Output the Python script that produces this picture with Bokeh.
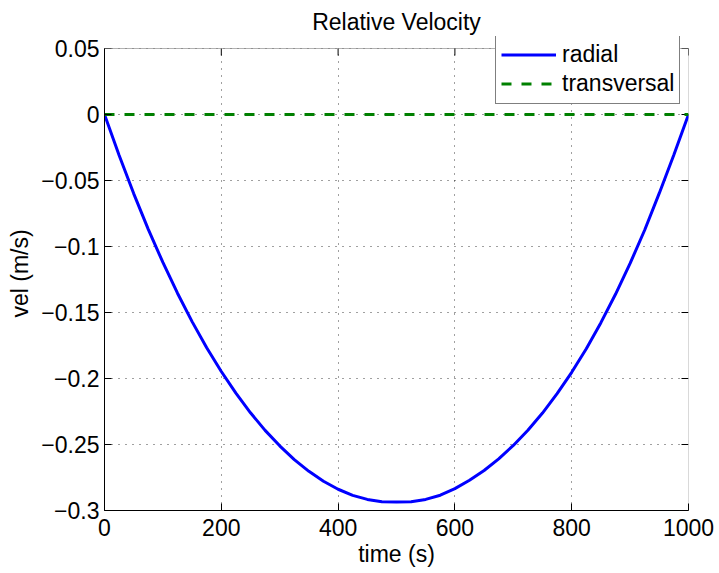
import math
from bokeh.plotting import figure
from bokeh.models import Range1d, FixedTicker, Legend, LegendItem, BoxAnnotation
from bokeh.embed import file_html
from bokeh.resources import INLINE

# ---- data ----
time_s = [0, 25, 50, 75, 100, 125, 150, 175, 200, 225, 250, 275, 300, 325, 350, 375,
          400, 425, 450, 475, 500, 525, 550, 575, 600, 625, 650, 675, 700, 725, 750,
          775, 800, 825, 850, 875, 900, 925, 950, 975, 1000]
radial = [0.0, -0.0309, -0.0599, -0.0870, -0.1121, -0.1354, -0.1569, -0.1767,
          -0.1947, -0.2111, -0.2260, -0.2393, -0.2510, -0.2614, -0.2703, -0.2778,
          -0.2839, -0.2885, -0.2916, -0.2933, -0.2936, -0.2933, -0.2916, -0.2884,
          -0.2834, -0.2771, -0.2697, -0.2609, -0.2507, -0.2392, -0.2262, -0.2115,
          -0.1953, -0.1774, -0.1577, -0.1362, -0.1128, -0.0875, -0.0596, -0.0305, 0.0]
transversal = [0.0 for _ in time_s]

x_ticks = [0, 200, 400, 600, 800, 1000]
y_ticks = [0.05, 0, -0.05, -0.1, -0.15, -0.2, -0.25, -0.3]
y_tick_labels = ["0.05", "0", "\u22120.05", "\u22120.1", "\u22120.15", "\u22120.2", "\u22120.25", "\u22120.3"]

X_MIN, X_MAX = 0, 1000
Y_MIN, Y_MAX = -0.3, 0.05

FONT = "Liberation Sans"
FS = "23px"

# frame extends a little above the axes box so the legend (which overlaps the
# top edge in the reference) is not clipped
PX_PER_Y = 462 / (Y_MAX - Y_MIN)
y_top = Y_MAX + 12 / PX_PER_Y
TICK_PX = 7

p = figure(width=719, height=573, output_backend="svg", toolbar_location=None,
           x_range=Range1d(X_MIN, X_MAX), y_range=Range1d(Y_MIN, y_top),
           min_border_left=104, min_border_right=31, min_border_top=36, min_border_bottom=63,
           title="Relative Velocity")
p.background_fill_color = "white"
p.border_fill_color = "white"
p.outline_line_color = None

p.title.align = "center"
p.title.text_font = FONT
p.title.text_font_size = FS
p.title.text_font_style = "normal"
p.title.text_color = "black"
p.title.standoff = 3

def style_axis(ax, ticks):
    ax.ticker = FixedTicker(ticks=ticks)
    ax.axis_line_color = "black"
    ax.axis_line_width = 1
    ax.major_tick_in = TICK_PX
    ax.major_tick_out = 0
    ax.major_tick_line_color = "black"
    ax.minor_tick_line_color = None
    ax.major_label_text_font = FONT
    ax.major_label_text_font_size = FS
    ax.major_label_text_color = "black"
    ax.axis_label_text_font = FONT
    ax.axis_label_text_font_size = FS
    ax.axis_label_text_font_style = "normal"
    ax.axis_label_text_color = "black"

xa = p.xaxis[0]
ya = p.yaxis[0]
style_axis(xa, x_ticks)
style_axis(ya, y_ticks)
ya.bounds = (Y_MIN, Y_MAX)
ya.major_label_overrides = {t: s for t, s in zip(y_ticks, y_tick_labels)}
xa.axis_label = "time (s)"
ya.axis_label = "vel (m/s)"
xa.major_label_standoff = 8
ya.major_label_standoff = 5
xa.axis_label_standoff = 2
ya.axis_label_standoff = 5

# dotted grid
for g in (p.xgrid[0], p.ygrid[0]):
    g.grid_line_color = "black"
    g.grid_line_alpha = 0.75
    g.grid_line_dash = "1 6"
    g.grid_line_width = 1
p.xgrid[0].ticker = FixedTicker(ticks=x_ticks)
p.ygrid[0].ticker = FixedTicker(ticks=y_ticks)

# inward tick marks on the top and right edges of the box
p.ray(x=x_ticks, y=[Y_MAX] * len(x_ticks), length=TICK_PX, length_units="screen",
      angle=-math.pi / 2, line_color="black", line_width=1)
p.ray(x=[X_MAX] * len(y_ticks), y=y_ticks, length=TICK_PX, length_units="screen",
      angle=math.pi, line_color="black", line_width=1)

r1 = p.line(time_s, radial, line_color="#0000ff", line_width=3)
r2 = p.line(time_s, transversal, line_color="#008000", line_width=3, line_dash="10 10")

# white strip above the box (hides grid there) and the box outline
p.add_layout(BoxAnnotation(bottom=Y_MAX, fill_color="white", fill_alpha=1, line_color=None))
p.add_layout(BoxAnnotation(left=X_MIN, right=X_MAX, bottom=Y_MIN, top=Y_MAX,
                           fill_alpha=0, fill_color=None, line_color="black", line_width=1))

legend = Legend(items=[LegendItem(label="radial", renderers=[r1]),
                       LegendItem(label="transversal", renderers=[r2])],
                location=(391, 406))
legend.label_text_font = FONT
legend.label_text_font_size = FS
legend.label_text_color = "black"
legend.border_line_color = "black"
legend.border_line_width = 1
legend.background_fill_color = "white"
legend.background_fill_alpha = 1
legend.padding = 5
legend.margin = 0
legend.spacing = 0
legend.glyph_width = 55
legend.glyph_height = 29
legend.label_height = 29
legend.label_standoff = 6
p.add_layout(legend, "center")

open("out.html", "w").write(file_html(p, INLINE))
